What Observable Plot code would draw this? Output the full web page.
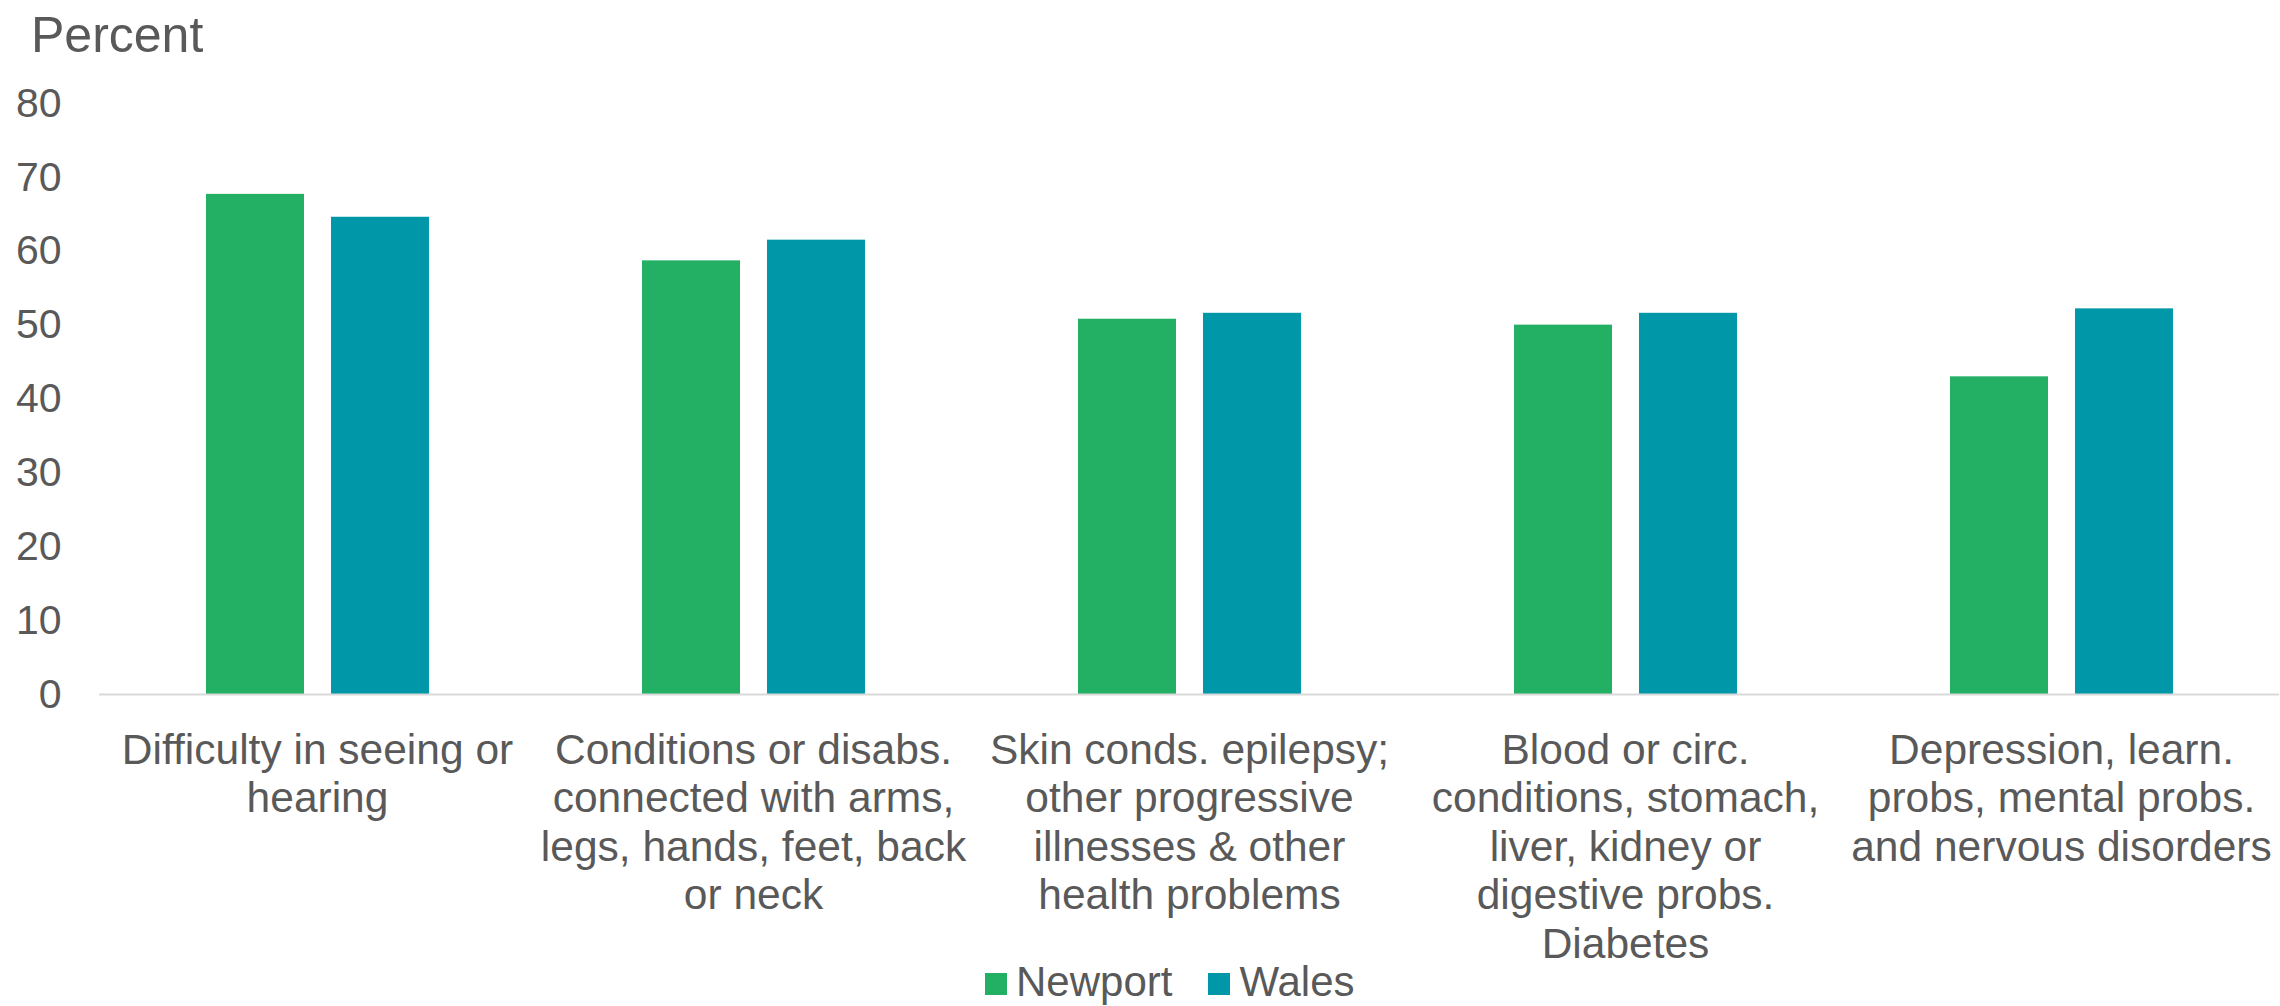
<!DOCTYPE html>
<html>
<head>
<meta charset="utf-8">
<script src="https://cdn.jsdelivr.net/npm/d3@7"></script>
<script src="https://cdn.jsdelivr.net/npm/@observablehq/plot@0.6"></script>
<style>
  html, body { margin: 0; padding: 0; background: #fff; }
  body { width: 2280px; height: 1006px; position: relative; overflow: hidden;
         font-family: "Liberation Sans", Arial, sans-serif; color: #595959; }
  #title { position: absolute; left: 31px; top: 10px; font-size: 50px; line-height: 50px; }
  #chart { position: absolute; left: 0; top: 0; }
  #legend { position: absolute; left: 985px; top: 961px; display: flex; align-items: flex-start;
            font-size: 42px; line-height: 42px; }
  .item { display: flex; align-items: flex-start; margin-right: 36px; }
  .sw { width: 22px; height: 22px; margin-top: 12px; margin-right: 9px; }
</style>
</head>
<body>
<div id="chart"></div>
<div id="title">Percent</div>
<div id="legend"></div>
<script>
const categories = [
  "Difficulty in seeing or\nhearing",
  "Conditions or disabs.\nconnected with arms,\nlegs, hands, feet, back\nor neck",
  "Skin conds. epilepsy;\nother progressive\nillnesses & other\nhealth problems",
  "Blood or circ.\nconditions, stomach,\nliver, kidney or\ndigestive probs.\nDiabetes",
  "Depression, learn.\nprobs, mental probs.\nand nervous disorders"
];
const series = ["Newport", "Wales"];
const newport = [67.7, 58.7, 50.8, 50.0, 43.0];
const wales = [64.6, 61.5, 51.6, 51.6, 52.2];
const colors = ["#23B065", "#0098A8"];
const yTicks = [0, 10, 20, 30, 40, 50, 60, 70, 80];

const data = [];
categories.forEach((c, i) => {
  data.push({category: c, series: series[0], value: newport[i]});
  data.push({category: c, series: series[1], value: wales[i]});
});

const chart = Plot.plot({
  width: 2280,
  height: 1006,
  marginTop: 103,
  marginBottom: 312,
  marginLeft: 99,
  marginRight: 1,
  style: {fontFamily: '"Liberation Sans", Arial, sans-serif', color: "#595959", background: "transparent"},
  fx: {domain: categories, padding: 0, label: null},
  x: {domain: series, paddingInner: 0.216, paddingOuter: 0.852, axis: null},
  y: {domain: [0, 80], label: null},
  color: {domain: series, range: colors},
  marks: [
    Plot.barY(data, {fx: "category", x: "series", y: "value", fill: "series"}),
    Plot.ruleY([0], {stroke: "#D9D9D9", strokeWidth: 2}),
    Plot.axisY({ticks: yTicks, tickSize: 0, tickPadding: 38, fontSize: 41, label: null}),
    Plot.axisFx({anchor: "bottom", tickSize: 0, tickPadding: 35, fontSize: 42.5, lineHeight: 1.14, label: null})
  ]
});
document.getElementById("chart").appendChild(chart);

const legend = document.getElementById("legend");
series.forEach((s, i) => {
  const item = document.createElement("div");
  item.className = "item";
  const sw = document.createElement("div");
  sw.className = "sw";
  sw.style.background = colors[i];
  const t = document.createElement("span");
  t.textContent = s;
  item.appendChild(sw);
  item.appendChild(t);
  legend.appendChild(item);
});
</script>
</body>
</html>
